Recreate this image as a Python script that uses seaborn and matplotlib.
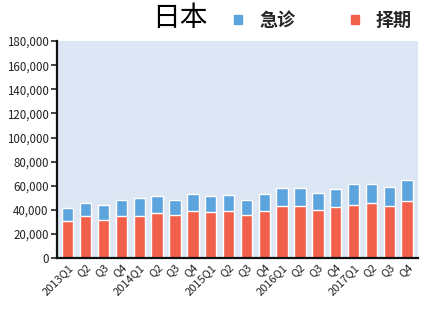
import matplotlib
matplotlib.use("Agg")
import matplotlib.pyplot as plt
import matplotlib.ticker as mticker
from matplotlib.patches import Patch
import seaborn as sns
import pandas as pd

quarters = ["2013Q1", "Q2", "Q3", "Q4", "2014Q1", "Q2", "Q3", "Q4",
            "2015Q1", "Q2", "Q3", "Q4", "2016Q1", "Q2", "Q3", "Q4",
            "2017Q1", "Q2", "Q3", "Q4"]
elective = [30400, 34600, 31800, 35100, 34900, 37300, 35400, 38700,
            38200, 38700, 35400, 39300, 42900, 43400, 39800, 42000,
            44300, 45400, 43200, 47000]
total = [41500, 45400, 43700, 48400, 49500, 51200, 47900, 53100,
         51700, 52300, 48400, 53400, 58400, 58400, 53700, 57500,
         61700, 61400, 58900, 64700]

ids = [f"{i}" for i in range(len(quarters))]
df = pd.DataFrame({"id": ids, "total": total, "elective": elective})

sns.set_theme(style="white")
plt.rcParams['font.family'] = ['Noto Sans CJK SC', 'DejaVu Sans']

blue = "#5BA4DD"
red = "#F1604B"
bg = "#DDE6F4"

fig = plt.figure(figsize=(4.29, 3.21), dpi=100)
ax = fig.add_axes([0.133, 0.196, 0.841, 0.676])
ax.set_facecolor(bg)

sns.barplot(data=df, x="id", y="total", color=blue, saturation=1, width=0.64, ax=ax)
sns.barplot(data=df, x="id", y="elective", color=red, saturation=1, width=0.64, ax=ax)

ax.set_ylim(0, 180000)
ax.set_xlim(-0.6, len(quarters) - 0.4)
ax.yaxis.set_major_locator(mticker.MultipleLocator(20000))
ax.yaxis.set_major_formatter(mticker.FuncFormatter(lambda v, p: f"{int(v):,}"))
ax.set_xticks(range(len(quarters)))
ax.set_xticklabels(quarters, rotation=45, ha="right", rotation_mode="anchor",
                   fontsize=8, color="#222222")
ax.tick_params(axis="y", labelsize=8.3, length=4, width=1.2, colors="#222222", left=True, pad=2)
ax.tick_params(axis="x", length=0, pad=3)
ax.set_xlabel("")
ax.set_ylabel("")
for s in ["top", "right"]:
    ax.spines[s].set_visible(False)
ax.spines["left"].set_color("#111111")
ax.spines["left"].set_linewidth(1.6)
ax.spines["bottom"].set_color("#111111")
ax.spines["bottom"].set_linewidth(1.6)

fig.text(0.354, 0.945, "日本", fontsize=20, fontweight="medium", color="black",
         ha="left", va="center")
handles = [Patch(color=blue, label="急诊"), Patch(color=red, label="择期")]
fig.legend(handles=handles, loc="center left", bbox_to_anchor=(0.546, 0.937),
           ncol=2, frameon=False, handlelength=0.42, handleheight=0.42,
           columnspacing=3.1, handletextpad=0.95, borderpad=0, borderaxespad=0,
           prop={"size": 13, "weight": "bold", "family": ['Noto Sans CJK SC', 'DejaVu Sans']})

fig.savefig("out.png", dpi=100)
